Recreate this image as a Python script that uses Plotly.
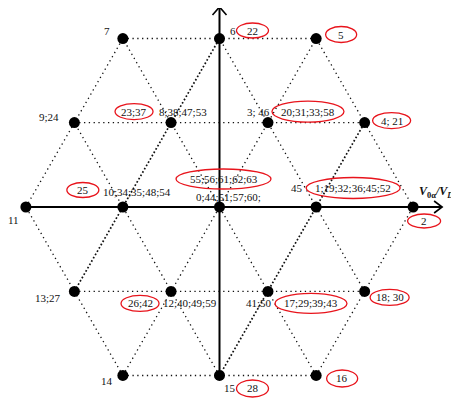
import plotly.graph_objects as go

# ---------------- data ----------------
point_ids = ["7", "6", "5", "9", "8", "3", "4", "11", "10", "0", "1", "2",
             "13", "12", "41", "18", "14", "15", "16"]
alpha = [-0.333, 0.0, 0.333,
         -0.5, -0.167, 0.167, 0.5,
         -0.667, -0.333, 0.0, 0.333, 0.667,
         -0.5, -0.167, 0.167, 0.5,
         -0.333, 0.0, 0.333]
beta = [0.577, 0.577, 0.577,
        0.289, 0.289, 0.289, 0.289,
        0.0, 0.0, 0.0, 0.0, 0.0,
        -0.289, -0.289, -0.289, -0.289,
        -0.577, -0.577, -0.577]
plain_labels = ["7", "6", "", "9;24", "8;38;47;53", "3; 46", "", "11",
                "10;34;35;48;54", "0;44;51;57;60;", "45", "", "13;27",
                "12;40;49;59", "41;50", "", "14", "15", ""]
circled_labels = ["", "22", "5", "", "23;37", "20;31;33;58", "4; 21", "",
                  "25", "55;56;61;62;63", "1;19;32;36;45;52", "2", "",
                  "26;42", "17;29;39;43", "18; 30", "", "28", "16"]
# dotted grid segments (between named points)
grid_lines = [("7", "5"), ("9", "4"), ("13", "18"), ("14", "16"),
              ("11", "7"), ("13", "6"), ("14", "5"), ("15", "4"), ("16", "2"),
              ("2", "5"), ("18", "6"), ("16", "7"), ("15", "9"), ("14", "11")]
dense_lines = [("13", "6"), ("15", "4")]
# axes extents
alpha_axis = [-0.667, 0.767]
beta_axis = [-0.577, 0.685]
x_title = "<b><i>V</i><sub>0α</sub><i>/V</i><sub><i>DC</i></sub></b>"
y_title = "<b><i>V</i><sub>0β</sub><i>/V</i><sub><i>DC</i></sub></b>"

# ---------------- layout / style ----------------
PAGE_OFF = 8               # default body margin of the html page
W, H = 459 - PAGE_OFF, 403 - PAGE_OFF
CX, CY = 219.5 - PAGE_OFF, 207.0 - PAGE_OFF   # pixel position of origin in the figure
SX, SY = 290.25, 292.0     # pixels per unit
FONT = "Liberation Serif"
FS = 11

# label offsets (px, right / down) per point
plain_off = {"7": (-16, -8), "6": (13, -8), "9": (-25, -6), "8": (12, -11),
             "3": (-9, -11), "11": (-12, 13), "10": (14, -15), "0": (9, -10),
             "1": (-19, -19), "13": (-26, 7), "12": (19, 12), "41": (-9, 12),
             "14": (-16, 6), "15": (10, 13)}
circ_off = {"6": (33, -8, 32, 15), "5": (25, -4, 31, 16), "8": (-37, -11, 38, 16),
            "3": (40, -11, 72, 21), "4": (27, -2, 38, 16), "10": (-40, -17, 32, 15),
            "0": (4, -28, 95, 20), "1": (37, -19, 94, 21), "2": (11, 14, 33, 14),
            "12": (-31, 12, 38, 16), "41": (43, 12, 72, 20), "18": (25, 6, 39, 16),
            "15": (33, 13, 32, 17), "16": (26, 3, 31, 17)}

idx = {p: i for i, p in enumerate(point_ids)}
fig = go.Figure()

for a, b in grid_lines:
    dense = (a, b) in dense_lines
    fig.add_trace(go.Scatter(
        x=[alpha[idx[a]], alpha[idx[b]]], y=[beta[idx[a]], beta[idx[b]]],
        mode="lines", hoverinfo="skip", showlegend=False,
        line=dict(color="#111", width=1.7 if dense else 1.3,
                  dash="1.7px,2.1px" if dense else "1.3px,3.5px")))

# axes
fig.add_trace(go.Scatter(x=alpha_axis, y=[0, 0], mode="lines", showlegend=False,
                         hoverinfo="skip", line=dict(color="black", width=2)))
fig.add_trace(go.Scatter(x=[0, 0], y=beta_axis, mode="lines", showlegend=False,
                         hoverinfo="skip", line=dict(color="black", width=2)))

# points
fig.add_trace(go.Scatter(x=alpha, y=beta, mode="markers", showlegend=False,
                         marker=dict(color="black", size=11)))

shapes = []
annotations = []
# arrow heads
shapes.append(dict(type="path", xref="x", yref="y", xsizemode="pixel", ysizemode="pixel",
                   xanchor=alpha_axis[1], yanchor=0, path="M -8,6 L 0,0 L -8,-6",
                   line=dict(color="black", width=1.6)))
shapes.append(dict(type="path", xref="x", yref="y", xsizemode="pixel", ysizemode="pixel",
                   xanchor=0, yanchor=beta_axis[1], path="M -7,-8 L 0,0 L 7,-8",
                   line=dict(color="black", width=1.6)))

for i, p in enumerate(point_ids):
    if plain_labels[i]:
        dx, dy = plain_off[p]
        annotations.append(dict(x=alpha[i], y=beta[i], xref="x", yref="y",
                                text=plain_labels[i], showarrow=False,
                                xshift=dx, yshift=-dy,
                                font=dict(family=FONT, size=FS, color="#111")))
    if circled_labels[i]:
        dx, dy, w, h = circ_off[p]
        annotations.append(dict(x=alpha[i], y=beta[i], xref="x", yref="y",
                                text=circled_labels[i], showarrow=False,
                                xshift=dx, yshift=-dy,
                                font=dict(family=FONT, size=FS, color="#111")))
        shapes.append(dict(type="circle", xref="x", yref="y",
                           xsizemode="pixel", ysizemode="pixel",
                           xanchor=alpha[i], yanchor=beta[i],
                           x0=dx - w / 2, x1=dx + w / 2,
                           y0=-dy - h / 2, y1=-dy + h / 2,
                           line=dict(color="#e8141c", width=1.3)))

annotations.append(dict(x=0, y=beta_axis[1], xref="x", yref="y", text=y_title,
                        showarrow=False, xanchor="left", xshift=17, yshift=-7,
                        font=dict(family=FONT, size=12, color="#111")))
annotations.append(dict(x=alpha_axis[1], y=0, xref="x", yref="y", text=x_title,
                        showarrow=False, xanchor="left", xshift=-25, yshift=15,
                        font=dict(family=FONT, size=12, color="#111")))

fig.update_layout(
    width=W, height=H, autosize=False,
    margin=dict(l=0, r=0, t=0, b=0),
    paper_bgcolor="white", plot_bgcolor="white",
    xaxis=dict(visible=False, range=[-CX / SX, (W - CX) / SX], fixedrange=True),
    yaxis=dict(visible=False, range=[-(H - CY) / SY, CY / SY], fixedrange=True),
    shapes=shapes, annotations=annotations, showlegend=False,
)

fig.write_html("out.html")
